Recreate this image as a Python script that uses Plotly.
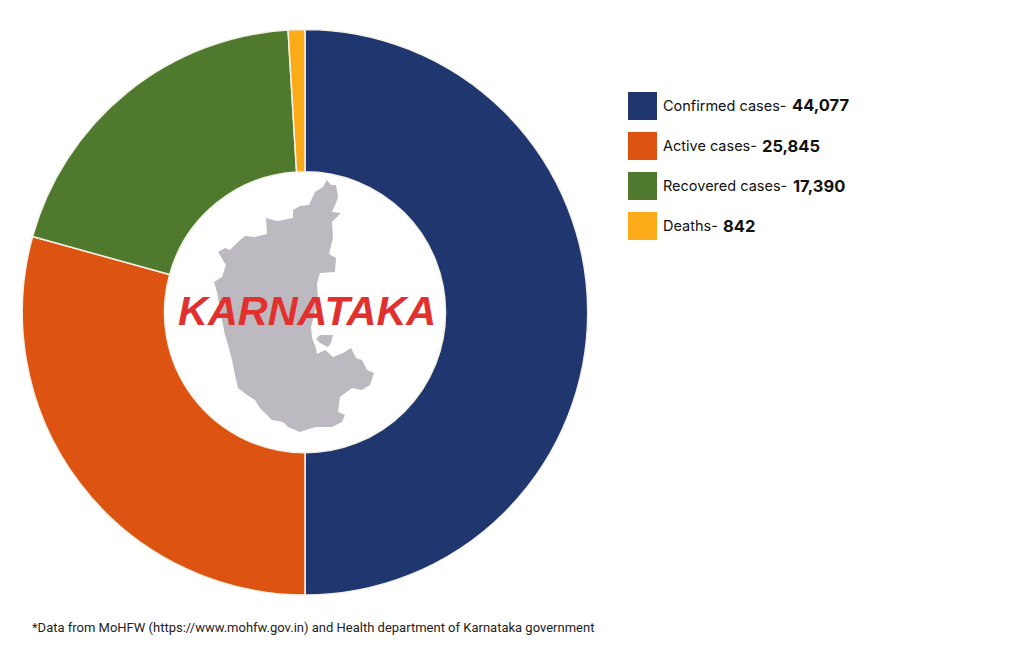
import plotly.graph_objects as go

# Case counts, Karnataka
labels = ["Confirmed cases", "Active cases", "Recovered cases", "Deaths"]
values = [44077, 25845, 17390, 842]
colors = ["#20366e", "#dc5312", "#4f7a2e", "#fbab18"]

W, H = 1024, 658

footnote = "*Data from MoHFW (https://www.mohfw.gov.in) and Health department of Karnataka government"

# State outline, page pixels
map_outline = [
    (327, 180), (331, 185), (336, 185), (338, 197), (336, 203), (332, 212), (341, 213), (332, 222),
    (333, 238), (329, 254), (336, 258), (335, 272), (320, 273), (317, 283), (318, 300), (311, 327),
    (312, 338), (316, 348), (317, 354), (325, 350), (333, 357), (343, 353), (351, 348), (356, 358),
    (362, 360), (367, 370), (374, 373), (370, 385), (362, 390), (352, 388), (340, 397), (338, 412),
    (345, 415), (342, 422), (332, 427), (315, 427), (300, 432), (288, 427), (283, 422), (272, 420),
    (260, 408), (255, 400), (247, 395), (238, 388), (235, 375), (232, 360), (228, 345), (225, 335),
    (221, 315), (217, 292), (214, 282), (222, 277), (226, 265), (218, 252), (225, 248), (230, 250),
    (240, 240), (245, 236), (255, 237), (267, 234), (266, 218), (273, 220), (278, 221), (293, 218),
    (293, 210), (300, 206), (309, 205), (315, 192), (323, 187),
]
map_island = [(316, 339), (320, 335), (333, 335), (331, 343), (328, 347), (320, 343)]


def px(x):
    return x / W


def py(y):
    return 1 - y / H


def svg_path(points):
    return "M " + " L ".join(f"{px(x):.4f} {py(y):.4f}" for x, y in points) + " Z"


fig = go.Figure(go.Pie(
    labels=labels,
    values=values,
    hole=0.497,
    sort=False,
    direction="clockwise",
    rotation=0,
    textinfo="none",
    hoverinfo="label+value",
    showlegend=False,
    marker=dict(colors=colors, line=dict(color="#f4f1e6", width=1.5)),
    domain=dict(x=[px(22), px(588)], y=[py(595), py(29.5)]),
))

shapes = [dict(
    type="path", xref="paper", yref="paper",
    path=svg_path(map_outline) + " " + svg_path(map_island),
    fillcolor="#bdb9c0", line=dict(width=0),
)]
annotations = [
    dict(
        text="<b><i>KARNATAKA</i></b>", x=px(306.5), y=py(311), xref="paper", yref="paper",
        xanchor="center", yanchor="middle",
        showarrow=False, font=dict(family="Liberation Sans", size=41.4, color="#e1302e"),
    ),
    dict(
        text=footnote, x=px(30), y=py(627), xref="paper", yref="paper",
        xanchor="left", yanchor="middle",
        showarrow=False, font=dict(family="Roboto", size=13, color="#222222"),
    ),
]

# Custom legend, big square swatches; bold figures set apart from the label text
legend_y = [106, 146, 186, 226]
value_x = [789.5, 759.5, 790.5, 720.5]
for name, val, col, y, vx in zip(labels, values, colors, legend_y, value_x):
    shapes.append(dict(
        type="rect", xref="paper", yref="paper",
        x0=px(628), x1=px(657), y0=py(y - 14), y1=py(y + 14),
        fillcolor=col, line=dict(width=0),
    ))
    annotations.append(dict(
        text=f"{name}-",
        x=px(661), y=py(y - 0.5), xref="paper", yref="paper", xanchor="left", yanchor="middle",
        showarrow=False, font=dict(family="Inter", size=14.5, color="#111111"),
    ))
    annotations.append(dict(
        text=f"<b>{val:,}</b>",
        x=px(vx), y=py(y - 0.5), xref="paper", yref="paper", xanchor="left", yanchor="middle",
        showarrow=False, font=dict(family="Inter", size=16.5, color="#111111"),
    ))

fig.update_layout(
    width=W,
    height=H,
    margin=dict(l=0, r=0, t=0, b=0),
    paper_bgcolor="white",
    plot_bgcolor="white",
    shapes=shapes,
    annotations=annotations,
)

fig.write_html("out.html", config=dict(displayModeBar=False), post_script="document.body.style.margin='0';")
